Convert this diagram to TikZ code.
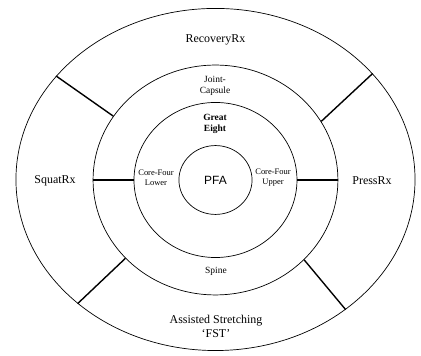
\documentclass[tikz,border=0pt]{standalone}
\usepackage{fontspec}
\setmainfont{Liberation Serif}
\newfontfamily\pfafont{Liberation Sans}
\usetikzlibrary{positioning,shapes.geometric}

\begin{document}
\begin{tikzpicture}[scale=0.10]
			\tikzstyle{every node}+=[inner sep=0pt]
			\tikzstyle{ring}=[draw=black, ellipse, line width=0.7pt]
			\tikzstyle{divider}=[black, line width=1.4pt]
			\tikzstyle{big}=[font=\fontsize{12}{14}\selectfont, align=center]
			\tikzstyle{small}=[font=\fontsize{9.5}{11}\selectfont, align=center]
			\tikzstyle{tiny}=[font=\fontsize{8.5}{10}\selectfont, align=center]
			\useasboundingbox (0,0) rectangle (148.52,-125.59);
			\node [ring, minimum width=14.08cm, minimum height=12.07cm] (outer) at (76.02,-63.32) {};
			\node [ring, minimum width=8.64cm, minimum height=8.11cm] (capsule) at (76.02,-63.50) {};
			\node [ring, minimum width=5.75cm, minimum height=5.47cm] (great) at (76.02,-63.50) {};
			\node [ring, minimum width=2.58cm, minimum height=2.43cm, font=\pfafont\fontsize{12}{14}\selectfont] (pfa) at (76.02,-63.50) {PFA};
			\draw [big] (76.02,-14.11) node (recovery) {RecoveryRx};
			\draw [big] (19.40,-63.85) node (squat) {SquatRx};
			\draw [big] (131.23,-63.85) node (press) {PressRx};
			\draw [big] (76.20,-115.01) node (stretch) {Assisted Stretching\\`FST'};
			\draw [small] (75.85,-30.34) node (joint) {Joint-\\Capsule};
			\draw [small] (75.85,-43.74) node (eight) {\textbf{Great}\\\textbf{Eight}};
			\draw [small] (76.20,-95.60) node (spine) {Spine};
			\draw [tiny] (55.03,-62.80) node (lower) {Core-Four\\Lower};
			\draw [tiny] (96.31,-62.80) node (upper) {Core-Four\\Upper};
			\draw [divider] (outer.147) -- (capsule.148.6);
			\draw [divider] (outer.34.2) -- (capsule.29);
			\draw [divider] (outer.222.8) -- (capsule.221.6);
			\draw [divider] (outer.-45.2) -- (capsule.-42.6);
			\draw [divider] (capsule.west) -- (great.west);
			\draw [divider] (capsule.east) -- (great.east);
\end{tikzpicture}
\end{document}
